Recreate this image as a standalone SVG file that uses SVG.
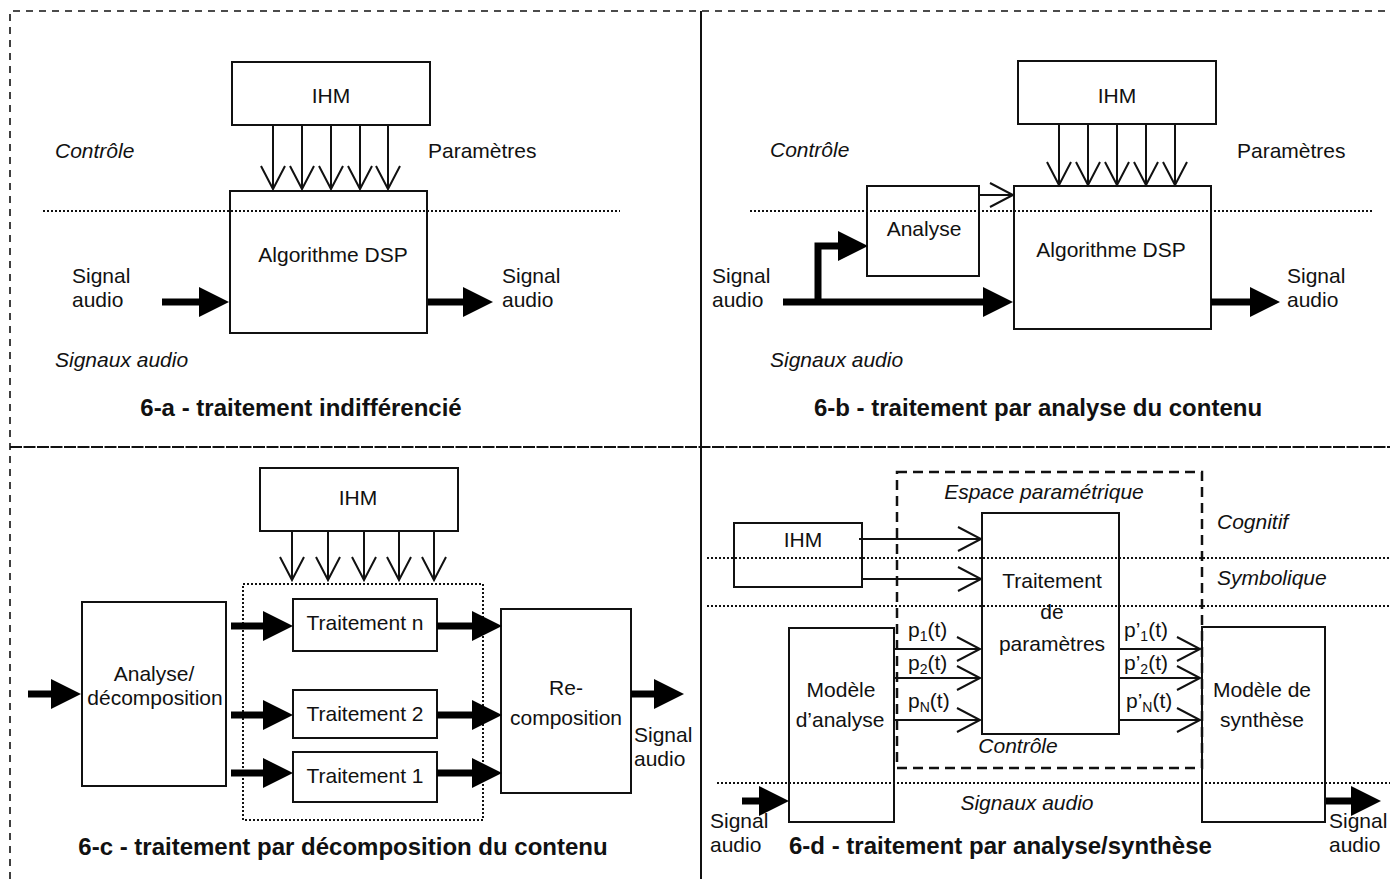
<svg xmlns="http://www.w3.org/2000/svg" width="1390" height="879" viewBox="0 0 1390 879">
<defs>
<style>
text{font-family:"Liberation Sans",Arial,sans-serif;font-size:21px;fill:#111}
.i{font-style:italic}
.b{font-weight:bold;font-size:24px}
.m{text-anchor:middle}
.box{fill:none;stroke:#111;stroke-width:2}
.thin{fill:none;stroke:#111;stroke-width:2;marker-end:url(#open)}
.thick{fill:none;stroke:#000;stroke-width:7;marker-end:url(#tri)}
.dot{fill:none;stroke:#111;stroke-width:2;stroke-dasharray:2 2}
.sub{font-size:14px}
</style>
<marker id="open" markerUnits="userSpaceOnUse" markerWidth="26" markerHeight="28" viewBox="0 0 26 28" refX="24" refY="14" orient="auto" overflow="visible">
<path d="M1,2 L24,14 L1,26" fill="none" stroke="#111" stroke-width="2"/>
</marker>
<marker id="tri" markerUnits="userSpaceOnUse" markerWidth="30" markerHeight="30" viewBox="0 0 30 30" refX="0" refY="15" orient="auto" overflow="visible">
<path d="M0,0 L30,15 L0,30 z" fill="#000"/>
</marker>
</defs>
<rect width="1390" height="879" fill="#fff"/>

<g id="frame">
<path d="M10,879 L10,11 L1390,11" fill="none" stroke="#111" stroke-width="1.6" stroke-dasharray="7 6"/>
<line x1="701" y1="11" x2="701" y2="879" stroke="#111" stroke-width="2"/>
<line x1="10" y1="447" x2="1390" y2="447" stroke="#111" stroke-width="2" stroke-dasharray="12 1.5"/>
</g>

<!-- 6-a -->
<g id="a-lines">
<line class="dot" x1="43" y1="211" x2="620" y2="211"/>
</g>
<g id="a-ihm"><rect class="box" x="232" y="62" width="198" height="63"/><text class="m" x="331" y="103">IHM</text></g>
<g id="a-dsp"><rect class="box" x="230" y="191" width="197" height="142"/><text class="m" x="333" y="262">Algorithme DSP</text></g>
<g id="a-labels">
<text class="i" x="55" y="158">Contrôle</text>
<text x="428" y="158">Paramètres</text>
<text x="72" y="283">Signal</text><text x="72" y="307">audio</text>
<text x="502" y="283">Signal</text><text x="502" y="307">audio</text>
<text class="i" x="55" y="367">Signaux audio</text>
<text class="b m" x="301" y="416">6-a - traitement indifférencié</text>
</g>
<g id="a-connectors">
<line class="thin" x1="273" y1="125" x2="273" y2="189"/>
<line class="thin" x1="302" y1="125" x2="302" y2="189"/>
<line class="thin" x1="331" y1="125" x2="331" y2="189"/>
<line class="thin" x1="360" y1="125" x2="360" y2="189"/>
<line class="thin" x1="388" y1="125" x2="388" y2="189"/>
<line class="thick" x1="162" y1="302" x2="199" y2="302"/>
<line class="thick" x1="428" y1="302" x2="463" y2="302"/>
</g>

<!-- 6-b -->
<g id="b-lines"><line class="dot" x1="750" y1="211" x2="1372" y2="211"/></g>
<g id="b-ihm"><rect class="box" x="1018" y="61" width="198" height="63"/><text class="m" x="1117" y="103">IHM</text></g>
<g id="b-analyse"><rect class="box" x="867" y="186" width="112" height="90"/><text class="m" x="924" y="236">Analyse</text></g>
<g id="b-dsp"><rect class="box" x="1014" y="186" width="197" height="143"/><text class="m" x="1111" y="257">Algorithme DSP</text></g>
<g id="b-labels">
<text class="i" x="770" y="157">Contrôle</text>
<text x="1237" y="158">Paramètres</text>
<text x="712" y="283">Signal</text><text x="712" y="307">audio</text>
<text x="1287" y="283">Signal</text><text x="1287" y="307">audio</text>
<text class="i" x="770" y="367">Signaux audio</text>
<text class="b m" x="1038" y="416">6-b - traitement par analyse du contenu</text>
</g>
<g id="b-connectors">
<line class="thin" x1="1059" y1="124" x2="1059" y2="185"/>
<line class="thin" x1="1088" y1="124" x2="1088" y2="185"/>
<line class="thin" x1="1117" y1="124" x2="1117" y2="185"/>
<line class="thin" x1="1146" y1="124" x2="1146" y2="185"/>
<line class="thin" x1="1175" y1="124" x2="1175" y2="185"/>
<line class="thin" x1="979" y1="195" x2="1013" y2="195"/>
<line class="thick" x1="783" y1="302" x2="983" y2="302"/>
<polyline class="thick" points="818,305 818,246 838,246"/>
<line class="thick" x1="1211" y1="302" x2="1250" y2="302"/>
</g>

<!-- 6-c -->
<g id="c-ihm"><rect class="box" x="260" y="468" width="198" height="63"/><text class="m" x="358" y="505">IHM</text></g>
<g id="c-group"><rect x="243" y="584" width="240" height="236" fill="none" stroke="#111" stroke-width="2" stroke-dasharray="2 2"/></g>
<g id="c-analyse"><rect class="box" x="82" y="602" width="144" height="184"/><text class="m" x="154" y="681">Analyse/</text><text class="m" x="155" y="705">décomposition</text></g>
<g id="c-tn"><rect class="box" x="293" y="599" width="144" height="52"/><text class="m" x="365" y="630">Traitement n</text></g>
<g id="c-t2"><rect class="box" x="293" y="690" width="144" height="48"/><text class="m" x="365" y="721">Traitement 2</text></g>
<g id="c-t1"><rect class="box" x="293" y="752" width="144" height="50"/><text class="m" x="365" y="783">Traitement 1</text></g>
<g id="c-recomp"><rect class="box" x="501" y="609" width="130" height="184"/><text class="m" x="566" y="695">Re-</text><text class="m" x="566" y="725">composition</text></g>
<g id="c-labels">
<text x="634" y="742">Signal</text><text x="634" y="766">audio</text>
<text class="b m" x="343" y="855">6-c - traitement par décomposition du contenu</text>
</g>
<g id="c-connectors">
<line class="thin" x1="292" y1="531" x2="292" y2="580"/>
<line class="thin" x1="328" y1="531" x2="328" y2="580"/>
<line class="thin" x1="364" y1="531" x2="364" y2="580"/>
<line class="thin" x1="399" y1="531" x2="399" y2="580"/>
<line class="thin" x1="434" y1="531" x2="434" y2="580"/>
<line class="thick" x1="28" y1="694" x2="51" y2="694"/>
<line class="thick" x1="231" y1="626" x2="263" y2="626"/>
<line class="thick" x1="231" y1="715" x2="263" y2="715"/>
<line class="thick" x1="231" y1="773" x2="263" y2="773"/>
<line class="thick" x1="437" y1="626" x2="472" y2="626"/>
<line class="thick" x1="437" y1="715" x2="472" y2="715"/>
<line class="thick" x1="437" y1="773" x2="472" y2="773"/>
<line class="thick" x1="631" y1="694" x2="654" y2="694"/>
</g>

<!-- 6-d -->
<g id="d-lines">
<line class="dot" x1="707" y1="558" x2="1390" y2="558"/>
<line class="dot" x1="707" y1="606" x2="1390" y2="606"/>
<line class="dot" x1="717" y1="783" x2="1390" y2="783"/>
</g>
<g id="d-space"><rect x="897" y="472" width="305" height="296" fill="none" stroke="#111" stroke-width="2.5" stroke-dasharray="10 6"/></g>
<g id="d-ihm"><rect class="box" x="734" y="523" width="128" height="64"/><text class="m" x="803" y="547">IHM</text></g>
<g id="d-traitement"><rect class="box" x="982" y="513" width="137" height="221"/><text class="m" x="1052" y="588">Traitement</text><text class="m" x="1052" y="619">de</text><text class="m" x="1052" y="651">paramètres</text></g>
<g id="d-analyse"><rect class="box" x="789" y="628" width="105" height="194"/><text class="m" x="841" y="697">Modèle</text><text class="m" x="840" y="727">d’analyse</text></g>
<g id="d-synthese"><rect class="box" x="1202" y="627" width="123" height="195"/><text class="m" x="1262" y="697">Modèle de</text><text class="m" x="1262" y="727">synthèse</text></g>
<g id="d-labels">
<text class="i m" x="1044" y="499">Espace paramétrique</text>
<text class="i" x="1217" y="529">Cognitif</text>
<text class="i" x="1217" y="585">Symbolique</text>
<text x="908" y="637">p<tspan class="sub" dy="4">1</tspan><tspan dy="-4">(t)</tspan></text>
<text x="908" y="670">p<tspan class="sub" dy="4">2</tspan><tspan dy="-4">(t)</tspan></text>
<text x="908" y="708">p<tspan class="sub" dy="4">N</tspan><tspan dy="-4">(t)</tspan></text>
<text x="1124" y="637">p’<tspan class="sub" dy="4">1</tspan><tspan dy="-4">(t)</tspan></text>
<text x="1124" y="670">p’<tspan class="sub" dy="4">2</tspan><tspan dy="-4">(t)</tspan></text>
<text x="1126" y="708">p’<tspan class="sub" dy="4">N</tspan><tspan dy="-4">(t)</tspan></text>
<text class="i m" x="1018" y="753">Contrôle</text>
<text class="i m" x="1027" y="810">Signaux audio</text>
<text x="710" y="828">Signal</text><text x="710" y="852">audio</text>
<text x="1329" y="828">Signal</text><text x="1329" y="852">audio</text>
<text class="b" x="789" y="854">6-d - traitement par analyse/synthèse</text>
</g>
<g id="d-connectors">
<line class="thin" x1="859" y1="539" x2="981" y2="539"/>
<line class="thin" x1="862" y1="579" x2="981" y2="579"/>
<line class="thin" x1="894" y1="649" x2="980" y2="649"/>
<line class="thin" x1="894" y1="678" x2="980" y2="678"/>
<line class="thin" x1="894" y1="720" x2="980" y2="720"/>
<line class="thin" x1="1119" y1="649" x2="1200" y2="649"/>
<line class="thin" x1="1119" y1="678" x2="1200" y2="678"/>
<line class="thin" x1="1119" y1="720" x2="1200" y2="720"/>
<line class="thick" x1="742" y1="801" x2="759" y2="801"/>
<line class="thick" x1="1326" y1="801" x2="1351" y2="801"/>
</g>
</svg>
